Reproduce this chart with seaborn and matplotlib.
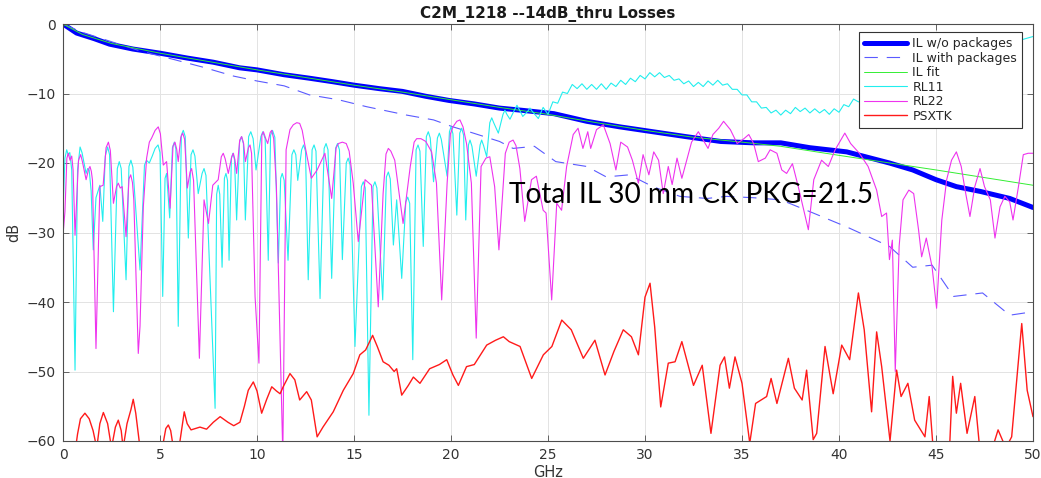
import numpy as np
import pandas as pd
import matplotlib
matplotlib.use("Agg")
import matplotlib.pyplot as plt
import seaborn as sns

# ---------------- data ----------------
il_wo_f = [0, 0.7, 1.6, 2.4, 3.6, 5.0, 6.4, 7.75, 9.1, 10.0, 11.4, 12.7, 13.9, 15.0,
           16.3, 17.5, 18.7, 19.9, 21.2, 22.5, 23.6, 25.3, 27.0, 28.7, 30.4, 32.1,
           33.9, 35.6, 37.0, 38.5, 40.4, 42.6, 43.8, 45.0, 46.05, 47.3, 48.8, 50]
il_wo = [0, -1.3, -2.1, -2.9, -3.6, -4.2, -4.9, -5.5, -6.3, -6.6, -7.3, -7.8, -8.3, -8.8,
         -9.3, -9.7, -10.4, -11.0, -11.5, -12.1, -12.4, -12.9, -14.0, -14.8, -15.5, -16.2,
         -16.9, -17.1, -17.1, -17.8, -18.4, -20.0, -21.0, -22.4, -23.4, -24.1, -25.1, -26.4]

il_with_f = [0, 1, 2, 3, 4, 5.7, 7.2, 8.8, 10.0, 11.4, 12.7, 14.2, 15.65, 17.7, 19.1,
             20.1, 21.15, 22.5, 23.2, 24.3, 25.4, 27.0, 28.0, 29.2, 30.4, 31.8, 33.2,
             34.2, 35.6, 37.0, 38.5, 40.4, 42.6, 43.8, 44.8, 45.9, 47.4, 48.8, 50]
il_with = [0, -1.2, -2.1, -3.0, -3.9, -5.1, -6.2, -7.5, -8.2, -8.9, -10.2, -10.9, -11.9,
           -13.1, -13.8, -14.8, -15.7, -16.9, -17.9, -17.6, -19.8, -20.5, -22.0, -21.7,
           -23.4, -24.8, -25.1, -24.8, -25.0, -25.3, -27.0, -29.2, -32.0, -35.0, -34.7,
           -39.2, -38.7, -41.9, -41.4]

il_fit_f = [0, 1, 2.5, 5, 7.5, 10, 12.5, 15, 17.5, 20, 22.5, 25, 27.5, 30, 32.5, 35,
            37, 40, 45, 50]
il_fit = [0, -1.5, -2.8, -4.2, -5.4, -6.6, -7.7, -8.8, -9.8, -10.9, -12.0, -13.0,
          -14.2, -15.3, -16.3, -17.0, -17.6, -18.9, -21.0, -23.2]

rl11_f = [0, 0.1, 0.19, 0.27, 0.35, 0.45, 0.62, 0.75, 0.88, 0.98, 1.19, 1.27, 1.35, 1.45,
          1.56, 1.7, 1.9, 2.05, 2.18, 2.3, 2.4, 2.6, 2.8, 2.9, 3.0, 3.25, 3.4, 3.5, 3.6,
          3.97, 4.2, 4.3, 4.45, 4.6, 4.75, 4.9, 5.0, 5.14, 5.26, 5.34, 5.5, 5.64, 5.74,
          5.82, 5.94, 6.1, 6.2, 6.3, 6.46, 6.6, 6.7, 6.8, 6.97, 7.17, 7.27, 7.37, 7.49,
          7.84, 7.92, 8.0, 8.08, 8.2, 8.32, 8.4, 8.48, 8.56, 8.68, 8.76, 8.84, 8.95, 9.1,
          9.2, 9.3, 9.4, 9.57, 9.68, 9.8, 9.95, 10.2, 10.3, 10.42, 10.58, 10.7, 10.8,
          10.92, 11.1, 11.22, 11.3, 11.4, 11.6, 11.8, 11.9, 12.0, 12.1, 12.3, 12.4, 12.5,
          12.64, 12.84, 12.94, 13.04, 13.25, 13.46, 13.56, 13.66, 13.85, 14.05, 14.15,
          14.25, 14.4, 14.6, 14.7, 14.8, 15.05, 15.38, 15.48, 15.58, 15.77, 15.98, 16.08,
          16.18, 16.48, 16.67, 16.77, 16.87, 17.03, 17.2, 17.46, 17.67, 17.77, 17.87,
          18.03, 18.2, 18.3, 18.4, 18.57, 18.73, 18.83, 18.93, 19.1, 19.3, 19.4, 19.5,
          19.8, 19.92, 20.0, 20.1, 20.3, 20.45, 20.55, 20.65, 20.76, 20.9, 20.98, 21.08,
          21.3, 21.5, 21.58, 21.68, 21.84, 22.0, 22.1, 22.2, 22.44, 22.68, 22.78, 22.88,
          23.04, 23.3, 23.4, 23.5, 23.7, 23.97, 24.07, 24.17, 24.5,
          24.75, 25.0, 25.25, 25.5, 25.75, 26.0, 26.25, 26.5, 26.75, 27.0, 27.25, 27.5,
          27.75, 28.0, 28.25, 28.5, 28.75, 29.0, 29.25, 29.5, 29.75, 30.0, 30.25, 30.5,
          30.75, 31.0, 31.25, 31.5, 31.75, 32.0, 32.25, 32.5, 32.75, 33.0, 33.25, 33.5,
          33.75, 34.0, 34.25, 34.5, 34.75, 35.0, 35.25, 35.5, 35.75, 36.0, 36.25, 36.5,
          36.75, 37.0, 37.25, 37.5, 37.75, 38.0, 38.25, 38.5, 38.75, 39.0, 39.25, 39.5,
          39.75, 40.0, 40.25, 40.5, 40.75, 41.0, 42, 44, 46, 48, 49.5, 50]
rl11 = [-27, -19.3, -18.1, -18.8, -18.5, -21, -49.8, -21, -17.7, -18.5, -21.5, -20.8,
        -21.0, -24, -32.5, -25, -23.2, -28.4, -19, -17.7, -18.8, -41.4, -20.8, -19.8,
        -20.8, -36.8, -20.5, -19.6, -20.6, -35.4, -20.3, -19.6, -20.0, -19.0, -17.9,
        -17.4, -18.5, -39.2, -22.2, -21.5, -27.9, -17.8, -17.0, -18.0, -43.5, -16.0,
        -15.3, -16.2, -30.8, -18.8, -18.1, -19, -24.4, -21.5, -20.8, -21.8, -30.4,
        -55.3, -24.5, -23.2, -24.5, -35.0, -22.2, -21.5, -22.5, -34.0, -19.3, -18.6,
        -19.5, -28.2, -17.0, -16.2, -17.2, -28.2, -16.2, -15.5, -16.5, -21.0, -16.2,
        -15.5, -16.5, -34.0, -16.0, -15.3, -16.3, -34.4, -22.2, -21.5, -22.5, -34.0,
        -18.8, -18.1, -18.8, -22.5, -18.1, -17.4, -18.3, -36.8, -18.1, -17.4, -18.3,
        -39.5, -17.9, -17.2, -18.1, -36.6, -17.9, -17.2, -18.1, -33.9, -20.0, -19.3,
        -20.3, -46.4, -23.4, -22.7, -23.6, -56.3, -23.4, -22.7, -23.6, -39.7, -22.0,
        -21.3, -22.3, -31.8, -25.3, -36.6, -25.6, -24.9, -25.8, -48.3, -18.1, -17.4,
        -18.3, -32.0, -16.2, -15.5, -16.4, -22.7, -16.4, -15.7, -16.6, -21.9, -15.5,
        -14.8, -15.8, -27.5, -15.7, -15.0, -16.0, -28.2, -17.4, -16.7, -17.6, -21.9,
        -17.4, -16.7, -17.5, -19.1, -14.2, -13.5, -14.2, -15.7, -13.0, -12.4, -13.0,
        -13.7, -12.2, -11.7, -12.2, -13.3, -12.5, -12.1, -12.5, -13.6,
        -12.0, -13.0, -11.2, -11.4, -9.8, -10.0, -8.7, -9.3, -8.6, -9.4, -8.7, -9.4,
        -8.6, -9.4, -8.5, -9.0, -8.1, -8.7, -7.8, -8.3, -7.4, -7.9, -7.0, -7.6,
        -7.0, -7.7, -7.4, -8.1, -7.9, -8.6, -8.2, -9.0, -8.4, -9.0, -8.2, -8.8,
        -8.1, -8.8, -8.6, -9.4, -9.4, -10.2, -10.2, -11.2, -11.2, -12.1, -12.0, -12.8,
        -12.4, -13.1, -12.4, -12.9, -12.0, -12.6, -12.1, -12.8, -12.2, -12.8, -12.3, -13.0,
        -12.2, -12.7, -11.6, -11.9, -10.8, -11.2, -10.5, -8.0, -5.5, -3.5, -2.2, -1.8]

rl22_f = [0, 0.1, 0.2, 0.27, 0.36, 0.45, 0.52, 0.62, 0.8, 0.91, 1.0, 1.19, 1.32, 1.39,
          1.46, 1.52, 1.7, 1.9, 2.07, 2.22, 2.34, 2.44, 2.6, 2.76, 2.85, 2.95, 3.05, 3.25,
          3.4, 3.49, 3.58, 3.65, 3.88, 3.97, 4.14, 4.31, 4.45, 4.57, 4.75, 4.91, 5.02,
          5.17, 5.34, 5.52, 5.67, 5.77, 5.86, 5.94, 6.07, 6.17, 6.27, 6.41, 6.55, 6.63,
          6.73, 7.03, 7.27, 7.5, 7.72, 8.0, 8.16, 8.26, 8.36, 8.52, 8.7, 8.78, 8.86, 8.95,
          9.11, 9.21, 9.31, 9.4, 9.56, 9.64, 9.72, 9.9, 10.1, 10.25, 10.33, 10.45, 10.55,
          10.68, 10.76, 10.86, 11.0, 11.33, 11.5, 11.7, 11.87, 12.05, 12.2, 12.33, 12.45,
          12.8, 13.1, 13.5, 13.85, 14.08, 14.2, 14.4, 14.6, 14.75, 14.96, 15.22, 15.57,
          15.9, 16.25, 16.5, 16.65, 16.77, 16.9, 17.1, 17.53, 17.9, 18.1, 18.23, 18.45,
          18.7, 19.0, 19.25, 19.52, 19.8, 19.97, 20.1, 20.3, 20.46, 20.62, 20.8, 21.05,
          21.3, 21.55, 21.8, 22.0, 22.25, 22.47, 22.8, 23.0, 23.2, 23.35, 23.55, 23.8,
          24.15, 24.4, 24.75, 24.9, 25.19, 25.45, 25.7, 25.96, 26.3, 26.55,
          26.8, 27.05, 27.2, 27.5, 27.85, 28.2, 28.5, 28.75, 29.1, 29.35, 29.66, 29.9,
          30.2, 30.45, 30.7, 30.94, 31.2, 31.4, 31.65, 31.9, 32.15, 32.4, 32.75, 33.0,
          33.25, 33.5, 33.8, 34.05, 34.4, 34.75, 35.1, 35.35, 35.6, 35.84, 36.2, 36.45,
          36.8, 37.05, 37.3, 37.6, 37.9, 38.42, 38.7, 39.1, 39.45, 39.8, 40.3, 40.6,
          41.05, 41.5, 41.94, 42.2, 42.45, 42.6, 42.75, 42.9, 43.1, 43.3, 43.6, 43.85,
          44.1, 44.26, 44.5, 44.8, 45.03, 45.3, 45.55, 45.8, 46.05, 46.3, 46.5, 46.75,
          47.0, 47.27, 47.5, 47.8, 48.04, 48.3, 48.55, 48.8, 48.97, 49.25, 49.5, 49.75,
          50.0]
rl22 = [-30.4, -27, -19.3, -18.6, -19.6, -19.0, -21, -30.4, -19.6, -18.8, -19.8, -22.4,
        -20.9, -20.5, -21.2, -22.5, -46.7, -23.4, -23.2, -17.8, -17.0, -18.2, -25.8,
        -23.4, -22.9, -23.6, -23.4, -30.6, -22.3, -21.7, -22.8, -25.3, -47.4, -43.5,
        -26.3, -19.3, -17.0, -16.4, -15.3, -14.8, -15.8, -20.3, -19.8, -26.5, -17.6,
        -17.0, -18.0, -19.8, -16.3, -15.7, -16.6, -23.6, -21.3, -20.8, -22.5, -48.1,
        -25.3, -28.7, -23.2, -22.4, -19.1, -18.6, -19.4, -21.5, -19.1, -18.6, -19.5,
        -21.5, -16.7, -16.2, -17.2, -19.8, -17.8, -17.4, -18.6, -39.2, -48.8, -16.0,
        -15.5, -16.5, -17.2, -15.6, -15.3, -16.5, -23.4, -62, -18.1, -15.2, -14.5,
        -14.2, -14.3, -15.3, -17.2, -22.2, -21.0, -18.6, -25.1, -17.8, -17.2, -17.0,
        -17.2, -18.3, -22.9, -31.3, -22.4, -23.2, -40.7, -24.4, -18.7, -17.9, -18.3,
        -19.6, -28.7, -20.5, -17.0, -16.5, -16.5, -16.9, -18.4, -22.9, -39.7, -22.9,
        -15.8, -14.8, -14.0, -13.8, -14.8, -17.2, -22.9, -45.2, -20.5, -19.3, -19.1,
        -23.4, -32.5, -18.6, -17.0, -16.7, -17.5, -20.8, -28.4, -22.4, -21.9, -26.8,
        -27.2, -39.7, -25.8, -26.8, -20.5, -15.9, -15.0,
        -17.9, -15.5, -17.9, -15.2, -14.5, -17.2, -21.0, -17.0, -17.7, -19.6, -22.9,
        -18.8, -21.7, -18.4, -19.6, -24.4, -20.5, -23.1, -19.3, -22.2, -19.6, -17.0,
        -15.5, -16.7, -17.9, -15.9, -15.0, -14.0, -15.2, -17.2, -16.5, -15.9, -17.2,
        -19.8, -19.3, -18.1, -18.6, -21.0, -21.5, -20.1, -23.4, -29.6, -22.4, -19.6,
        -20.5, -18.1, -15.7, -17.2, -18.6, -20.5, -23.9, -27.7, -27.2, -33.9, -31.1,
        -50.0, -32.0, -25.3, -23.9, -24.4, -29.6, -33.5, -30.8, -35.0, -40.9, -28.2,
        -22.4, -19.6, -18.4, -20.5, -23.9, -27.7, -23.4, -20.8, -23.4, -25.3, -30.8,
        -26.3, -24.8, -25.6, -28.2, -23.4, -18.8, -18.6, -18.6]

psxtk_f = [0.0, 0.6, 0.75, 0.9, 1.13, 1.35, 1.55, 1.74, 1.9, 2.08, 2.3, 2.5, 2.7, 2.85,
           3.0, 3.1, 3.3, 3.5, 3.62, 3.75, 3.97, 4.3, 4.6, 4.9, 5.15, 5.3, 5.43, 5.55,
           5.69, 5.9, 6.03, 6.25, 6.4, 6.6, 7.06, 7.4, 7.75, 8.1, 8.5, 8.8, 9.12, 9.35,
           9.55, 9.81, 10.0, 10.24, 10.5, 10.76, 11.0, 11.19, 11.35, 11.7, 11.95, 12.2,
           12.56, 12.8, 13.1, 13.4, 13.93, 14.45, 14.96, 15.3, 15.6, 15.96, 16.2, 16.5,
           16.8, 17.07, 17.2, 17.46, 17.8, 18.06, 18.4, 18.9, 19.4, 19.78, 20.1, 20.38,
           20.8, 21.2, 21.84, 22.3, 22.7, 23.0, 23.56, 24.16, 24.76, 25.2, 25.71, 26.2,
           26.82, 27.42, 27.94, 28.4, 28.88, 29.3, 29.66, 30.0, 30.26, 30.5, 30.81, 31.2,
           31.55, 31.9, 32.5, 32.95, 33.4, 33.87, 34.1, 34.35, 34.64, 35.0, 35.4, 35.7,
           36.27, 36.5, 36.8, 37.39, 37.7, 38.1, 38.33, 38.67, 38.85, 39.28, 39.7, 40.14,
           40.55, 41.0, 41.3, 41.68, 41.94, 42.2, 42.63, 42.97, 43.2, 43.55, 43.9, 44.43,
           44.65, 44.85, 45.3, 45.7, 45.86, 46.05, 46.27, 46.6, 47.0, 47.25, 47.8, 48.2,
           48.6, 48.9, 49.16, 49.42, 49.7, 50.0]
psxtk = [-66, -62, -59, -56.8, -56.0, -56.8, -58.5, -61, -57.5, -55.9, -57.5, -61, -58,
         -57.0, -58.5, -61, -57.5, -55.5, -54.0, -56.0, -61, -63, -60.2, -63, -60.5,
         -58.2, -57.7, -58.5, -61, -62, -60, -55.8, -57.5, -58.4, -58.0, -58.3, -57.3,
         -56.5, -57.3, -57.8, -57.3, -55.0, -52.7, -51.5, -52.8, -56.0, -54.0, -52.2,
         -52.8, -53.2, -52.2, -50.3, -51.2, -54.1, -52.9, -54.1, -59.4, -58.0, -55.8,
         -52.7, -50.3, -47.6, -46.9, -44.8, -46.4, -48.6, -49.1, -50.0, -49.6, -53.4,
         -52.0, -50.8, -51.7, -49.6, -49.0, -48.3, -50.5, -52.0, -49.3, -49.0, -46.2,
         -45.5, -45.0, -45.7, -46.4, -51.0, -47.6, -46.4, -42.6, -44.0, -48.1, -45.5,
         -50.5, -47.1, -44.0, -45.0, -47.6, -39.3, -37.3, -43.6, -55.1, -48.8, -48.6,
         -45.7, -52.0, -49.1, -58.9, -49.1, -47.9, -52.4, -47.9, -51.7, -60.3, -54.6,
         -53.6, -51.0, -54.6, -48.1, -52.4, -54.1, -49.8, -59.8, -58.9, -46.4, -53.2,
         -46.2, -48.3, -38.7, -44.0, -55.8, -44.3, -49.3, -60.0, -49.8, -53.6, -51.7,
         -57.0, -59.4, -53.6, -61, -63, -61, -50.7, -56.0, -51.7, -58.9, -53.6, -61,
         -62, -58.4, -61, -59.4, -51.2, -43.1, -52.7, -56.5]

x_ticks = [0, 5, 10, 15, 20, 25, 30, 35, 40, 45, 50]
y_ticks = [0, -10, -20, -30, -40, -50, -60]
title = "C2M_1218 --14dB_thru Losses"
note = "Total IL 30 mm CK PKG=21.5"

# ---------------- style ----------------
sns.set_style("white")
plt.rcParams["font.family"] = ["DejaVu Sans"]

fig = plt.figure(figsize=(10.41, 4.78), dpi=100)
ax = fig.add_axes([63 / 1041, 1 - 441 / 478, 970 / 1041, 417 / 478])

series = [
    ("IL w/o packages", il_wo_f, il_wo, "#0000ff", 3.6),
    ("IL with packages", il_with_f, il_with, "#5a5aff", 0.8),
    ("IL fit", il_fit_f, il_fit, "#33ee33", 0.7),
    ("RL11", rl11_f, rl11, "#22eeee", 0.8),
    ("RL22", rl22_f, rl22, "#ee33ee", 0.8),
    ("PSXTK", psxtk_f, psxtk, "#ff1a1a", 1.0),
]
for name, f, v, c, lw in series:
    df = pd.DataFrame({"GHz": f, "dB": v})
    sns.lineplot(data=df, x="GHz", y="dB", ax=ax, color=c, linewidth=lw,
                 label=name, estimator=None, sort=False)
    if name == "IL with packages":
        ax.lines[-1].set_dashes([12, 8])

ax.set_xlim(0, 50)
ax.set_ylim(-60, 0)
ax.set_xticks(x_ticks)
ax.set_yticks(y_ticks)
ax.grid(True, color="#e3e3e3", linewidth=0.7)
ax.set_axisbelow(True)
for s in ax.spines.values():
    s.set_color("#4d4d4d")
    s.set_linewidth(0.8)
ax.tick_params(direction="in", length=4, width=0.6, colors="#4d4d4d",
               labelcolor="#333333", labelsize=10, top=True, right=True,
               bottom=True, left=True, pad=5)

ax.set_title(title, fontsize=11, fontweight="bold", pad=4, color="#1a1a1a")
ax.set_xlabel("GHz", fontsize=10.5, color="#333333", labelpad=2)
ax.set_ylabel("dB", fontsize=10.5, color="#333333", labelpad=4)

ax.text(23.0, -25.75, note, fontsize=20.2, family=["Lato", "DejaVu Sans"],
        color="black", ha="left", va="baseline")

leg = ax.legend(loc="upper right", bbox_to_anchor=(0.9887, 0.9808), borderaxespad=0,
                fontsize=9, handlelength=3.4, handletextpad=0.45, labelspacing=0.12,
                borderpad=0.4, frameon=True, fancybox=False, framealpha=1)
leg.get_frame().set_edgecolor("#333333")
leg.get_frame().set_linewidth(0.8)

fig.savefig("out.png", dpi=100)
